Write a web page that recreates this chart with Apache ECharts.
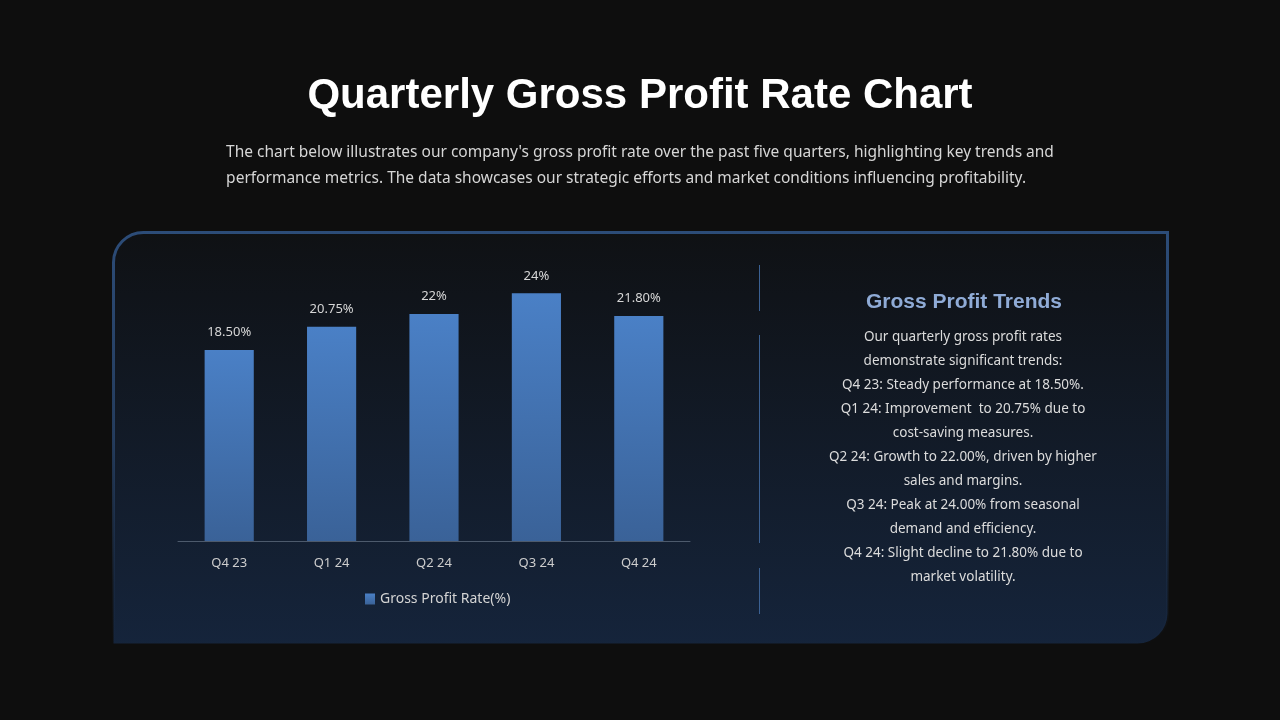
<!DOCTYPE html>
<html>
<head>
<meta charset="utf-8">
<style>
html,body{margin:0;padding:0;background:#0e0e0e;}
#main{width:1280px;height:720px;}
</style>
<script src="https://cdn.jsdelivr.net/npm/echarts@6/dist/echarts.min.js"></script>
</head>
<body>
<div id="main"></div>
<script>
const categories = ['Q4 23', 'Q1 24', 'Q2 24', 'Q3 24', 'Q4 24'];
const grossProfitRate = [18.5, 20.75, 22, 24, 21.8];
const valueLabels = ['18.50%', '20.75%', '22%', '24%', '21.80%'];
const seriesName = 'Gross Profit Rate(%)';
const titleText = 'Quarterly Gross Profit Rate Chart';
const subtitleLines = [
  "The chart below illustrates our company's gross profit rate over the past five quarters, highlighting key trends and",
  "performance metrics. The data showcases our strategic efforts and market conditions influencing profitability."
];
const panelTitle = 'Gross Profit Trends';
const panelLines = [
  'Our quarterly gross profit rates',
  'demonstrate significant trends:',
  'Q4 23: Steady performance at 18.50%.',
  'Q1 24: Improvement  to 20.75% due to',
  'cost-saving measures.',
  'Q2 24: Growth to 22.00%, driven by higher',
  'sales and margins.',
  'Q3 24: Peak at 24.00% from seasonal',
  'demand and efficiency.',
  'Q4 24: Slight decline to 21.80% due to',
  'market volatility.'
];

const bodyFont = '"Noto Sans", "Open Sans", sans-serif';
const chart = echarts.init(document.getElementById('main'), null, {renderer: 'canvas'});

const barGradient = new echarts.graphic.LinearGradient(0, 0, 0, 1, [
  {offset: 0, color: '#4a80c6'},
  {offset: 1, color: '#3a6298'}
]);

chart.setOption({
  backgroundColor: '#0e0e0e',
  animation: false,
  title: {
    text: titleText,
    left: 'center',
    top: 70,
    textStyle: {color: '#ffffff', fontSize: 42, fontWeight: 'bold', fontFamily: '"Liberation Sans", Arial, sans-serif'}
  },
  graphic: [
    {
      type: 'rect', z: -10,
      shape: {x: 113.5, y: 232.5, width: 1054, height: 411, r: [30, 0, 30, 0]},
      style: {
        fill: new echarts.graphic.LinearGradient(0, 0, 0, 1, [
          {offset: 0, color: '#0f1114'},
          {offset: 1, color: '#15243b'}
        ]),
        stroke: new echarts.graphic.LinearGradient(0, 0, 0, 1, [
          {offset: 0, color: '#2c4c78'},
          {offset: 0.5, color: 'rgba(44,76,120,0.7)'},
          {offset: 0.85, color: 'rgba(44,76,120,0.15)'},
          {offset: 1, color: 'rgba(44,76,120,0)'}
        ]),
        lineWidth: 3
      }
    },
    {type: 'line', shape: {x1: 759.5, y1: 265, x2: 759.5, y2: 311}, style: {stroke: '#3b6193', lineWidth: 1}},
    {type: 'line', shape: {x1: 759.5, y1: 335, x2: 759.5, y2: 543}, style: {stroke: '#3b6193', lineWidth: 1}},
    {type: 'line', shape: {x1: 759.5, y1: 568, x2: 759.5, y2: 614}, style: {stroke: '#3b6193', lineWidth: 1}},
    {
      type: 'text', left: 'center', top: 140,
      style: {
        text: subtitleLines.join('\n'), fill: '#d6d6d6', fontSize: 15.5, lineHeight: 26,
        align: 'center', fontFamily: bodyFont
      }
    },
    {
      type: 'text', x: 964, y: 302,
      style: {
        text: panelTitle, fill: '#8fabd6', fontSize: 21, fontWeight: 'bold',
        align: 'center', verticalAlign: 'middle', fontFamily: '"Liberation Sans", Arial, sans-serif'
      }
    },
    {
      type: 'text', x: 963, y: 325,
      style: {
        text: panelLines.join('\n'), fill: '#dcdcdc', fontSize: 13.5, lineHeight: 24,
        align: 'center', verticalAlign: 'top', fontFamily: bodyFont
      }
    }
  ],
  legend: {
    data: [seriesName],
    left: 360,
    top: 587,
    itemWidth: 10, itemHeight: 11, itemGap: 6,
    icon: 'rect',
    textStyle: {color: '#d4d4d4', fontSize: 14, fontFamily: bodyFont}
  },
  grid: {left: 178, right: 590, top: 234, bottom: 179, containLabel: false},
  xAxis: {
    type: 'category',
    data: categories,
    axisLine: {lineStyle: {color: '#4d5a6c', width: 1}},
    axisTick: {show: false},
    axisLabel: {color: '#cdcdcd', fontSize: 13, margin: 16, fontFamily: bodyFont}
  },
  yAxis: {
    type: 'value', min: 0, max: 29.75, show: false,
    splitLine: {show: false}
  },
  series: [{
    name: seriesName,
    type: 'bar',
    data: grossProfitRate,
    barWidth: '48%',
    itemStyle: {color: barGradient},
    label: {
      show: true, position: 'top', distance: 11,
      color: '#d6d6d6', fontSize: 13, fontFamily: bodyFont,
      formatter: p => valueLabels[p.dataIndex]
    }
  }]
});
</script>
</body>
</html>
